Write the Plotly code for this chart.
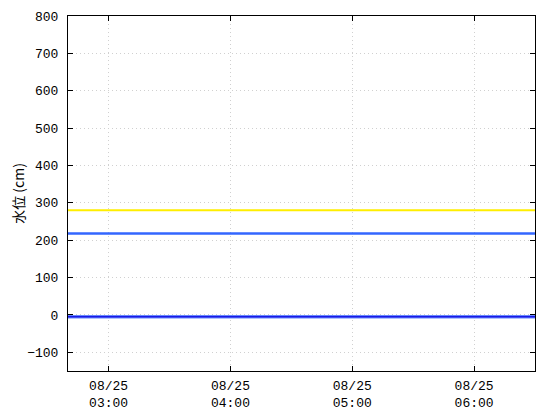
import plotly.graph_objects as go

times = ["2023-08-25 02:40", "2023-08-25 03:00", "2023-08-25 04:00",
         "2023-08-25 05:00", "2023-08-25 06:00", "2023-08-25 06:30"]
level_yellow = [280, 280, 280, 280, 280, 280]
level_blue = [218, 218, 218, 218, 218, 218]
level_dark = [-5, -5, -5, -5, -5, -5]

tick_vals = ["2023-08-25 03:00", "2023-08-25 04:00", "2023-08-25 05:00", "2023-08-25 06:00"]
tick_text = ["08/25<br>03:00", "08/25<br>04:00", "08/25<br>05:00", "08/25<br>06:00"]
y_ticks = [-100, 0, 100, 200, 300, 400, 500, 600, 700, 800]

fig = go.Figure()
fig.add_trace(go.Scatter(x=times, y=level_yellow, mode="lines",
                         line=dict(color="#ffee00", width=2)))
fig.add_trace(go.Scatter(x=times, y=level_blue, mode="lines",
                         line=dict(color="#3366ff", width=2.5)))
fig.add_trace(go.Scatter(x=times, y=level_dark, mode="lines",
                         line=dict(color="#6688ff", width=3.5)))
fig.add_trace(go.Scatter(x=times, y=level_dark, mode="lines",
                         line=dict(color="#1a1ae6", width=1.5)))

font_fam = "Liberation Mono, Noto Sans CJK JP, monospace"
fig.update_layout(
    width=560, height=420,
    margin=dict(l=60, r=33, t=8, b=57, autoexpand=False),
    paper_bgcolor="white", plot_bgcolor="white",
    showlegend=False,
    font=dict(family=font_fam, size=13, color="black"),
    xaxis=dict(
        type="date",
        range=["2023-08-25 02:40", "2023-08-25 06:30"],
        tickmode="array", tickvals=tick_vals, ticktext=tick_text,
        ticks="inside", ticklen=5, tickcolor="black",
        showline=True, linecolor="black", linewidth=1, mirror="allticks",
        showgrid=True, gridcolor="#d0d0d0", griddash="1px,3px", gridwidth=1,
        zeroline=False, ticklabelstandoff=2,
        tickfont=dict(family=font_fam, size=13),
    ),
    yaxis=dict(
        range=[-150, 800],
        tickmode="array", tickvals=y_ticks,
        ticks="inside", ticklen=5, tickcolor="black",
        showline=True, linecolor="black", linewidth=1, mirror="allticks",
        showgrid=True, gridcolor="#d0d0d0", griddash="1px,3px", gridwidth=1,
        zeroline=False, ticklabelstandoff=6,
        title=dict(text="水位 (cm)", font=dict(family="Noto Sans CJK JP", size=14), standoff=16),
        tickfont=dict(family=font_fam, size=13),
    ),
)

fig.write_html("out.html")
